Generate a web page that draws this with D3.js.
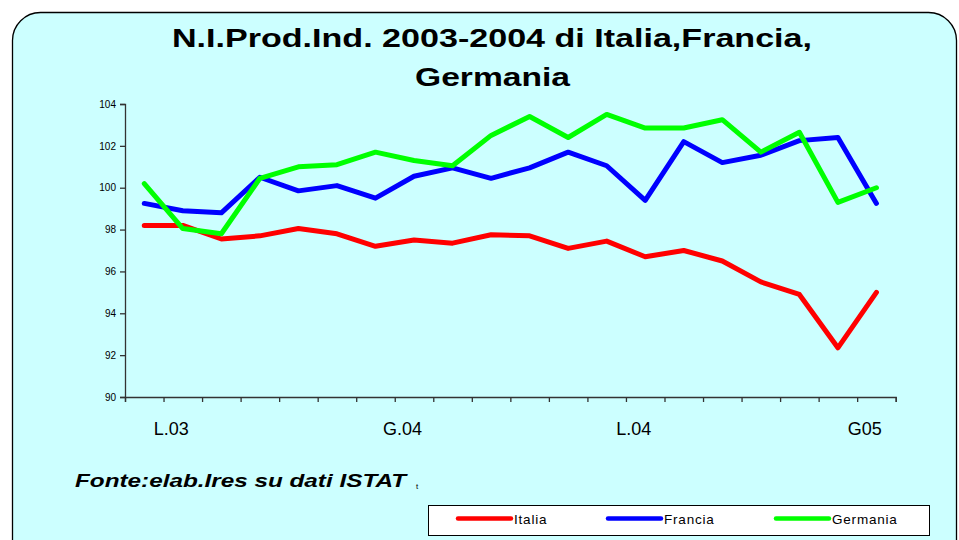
<!DOCTYPE html>
<html>
<head>
<meta charset="utf-8">
<script src="https://cdn.jsdelivr.net/npm/d3@7"></script>
<style>
  body { margin: 0; background: #fff; }
  svg { display: block; font-family: 'Liberation Sans', Arial, sans-serif; }
</style>
</head>
<body>
<svg id="chart" width="959" height="540"></svg>
<script>
// months from Jul 2003 to Feb 2005
const categories = ['lug03', 'ago03', 'set03', 'ott03', 'nov03', 'dic03',
  'gen04', 'feb04', 'mar04', 'apr04', 'mag04', 'giu04',
  'lug04', 'ago04', 'set04', 'ott04', 'nov04', 'dic04',
  'gen05', 'feb05'];
const italia = [98.2, 98.2, 97.55, 97.7, 98.05, 97.8, 97.2, 97.5, 97.35, 97.75,
  97.7, 97.1, 97.45, 96.7, 97.0, 96.5, 95.5, 94.9, 92.35, 95.0];
const francia = [99.25, 98.9, 98.8, 100.5, 99.85, 100.1, 99.5, 100.55, 100.95, 100.45,
  100.95, 101.7, 101.05, 99.4, 102.2, 101.2, 101.55, 102.25, 102.4, 99.25];
const germania = [100.2, 98.05, 97.8, 100.45, 101.0, 101.1, 101.7, 101.3, 101.05, 102.5,
  103.4, 102.4, 103.5, 102.85, 102.85, 103.25, 101.7, 102.65, 99.3, 100.0];
const yTicks = [90, 92, 94, 96, 98, 100, 102, 104];
const tickAt = ['lug03', 'gen04', 'lug04', 'gen05'];
const tickLabels = ['L.03', 'G.04', 'L.04', 'G05'];

const series = [
  { name: 'Italia', values: italia, color: '#ff0000' },
  { name: 'Francia', values: francia, color: '#0000ff' },
  { name: 'Germania', values: germania, color: '#00ff00' },
];

const svg = d3.select('#chart');
const plot = { left: 125, right: 895.7, top: 104, bottom: 397 };

// frame
svg.append('rect')
  .attr('x', 12.5).attr('y', 12.5)
  .attr('width', 944).attr('height', 560)
  .attr('rx', 28).attr('ry', 28)
  .attr('fill', '#ccffff')
  .attr('stroke', '#000')
  .attr('stroke-width', 1.3);

// title (stretched like the original rendering)
const title = svg.append('g')
  .attr('font-size', 26.5)
  .attr('font-weight', 'bold')
  .attr('fill', '#000');
title.append('text')
  .attr('x', 172).attr('y', 47)
  .attr('textLength', 640)
  .attr('lengthAdjust', 'spacingAndGlyphs')
  .text('N.I.Prod.Ind. 2003-2004 di Italia,Francia,');
title.append('text')
  .attr('x', 415).attr('y', 86)
  .attr('textLength', 155)
  .attr('lengthAdjust', 'spacingAndGlyphs')
  .text('Germania');

const x = d3.scaleBand().domain(categories).range([plot.left, plot.right]);
const xTick = d3.scaleLinear().domain([0, categories.length]).range([plot.left, plot.right]);
const y = d3.scaleLinear().domain([90, 104]).range([plot.bottom, plot.top]);

// y axis
const yAxis = svg.append('g')
  .attr('transform', `translate(${plot.left},0)`)
  .call(d3.axisLeft(y).tickValues(yTicks).tickSize(5).tickPadding(4).tickFormat(d3.format('d')));
yAxis.selectAll('text').attr('font-size', 10).attr('fill', '#000')
  .attr('font-family', "'Liberation Sans', Arial, sans-serif");

// x axis (ticks on category boundaries)
const xAxis = svg.append('g')
  .attr('transform', `translate(0,${plot.bottom})`)
  .call(d3.axisBottom(xTick).tickValues(d3.range(categories.length + 1)).tickSize(5).tickFormat(''));

[yAxis, xAxis].forEach((g) => {
  g.select('.domain').attr('stroke', '#333').attr('stroke-width', 1.3);
  g.selectAll('.tick line').attr('stroke', '#333').attr('stroke-width', 1.3);
});

svg.append('g').selectAll('text')
  .data(tickAt)
  .enter()
  .append('text')
  .attr('x', (d) => x(d) + x.bandwidth() * 1.2)
  .attr('y', 435)
  .attr('text-anchor', 'middle')
  .attr('font-size', 18)
  .attr('fill', '#000')
  .text((d, i) => tickLabels[i]);

// lines
const line = d3.line()
  .x((d, i) => x(categories[i]) + x.bandwidth() / 2)
  .y((d) => y(d));

svg.append('g').selectAll('path')
  .data(series)
  .enter()
  .append('path')
  .attr('d', (d) => line(d.values))
  .attr('fill', 'none')
  .attr('stroke', (d) => d.color)
  .attr('stroke-width', 5)
  .attr('stroke-linejoin', 'round')
  .attr('stroke-linecap', 'round');

// source
svg.append('text')
  .attr('x', 75).attr('y', 486.5)
  .attr('font-size', 18)
  .attr('font-weight', 'bold')
  .attr('font-style', 'italic')
  .attr('textLength', 331)
  .attr('lengthAdjust', 'spacingAndGlyphs')
  .text('Fonte:elab.Ires su dati ISTAT');
svg.append('text')
  .attr('x', 416).attr('y', 489)
  .attr('font-size', 8)
  .text('t');

// legend
const legend = svg.append('g');
legend.append('rect')
  .attr('x', 428.5).attr('y', 505.5)
  .attr('width', 501).attr('height', 30)
  .attr('fill', '#fff')
  .attr('stroke', '#000')
  .attr('stroke-width', 1);
const legendX = [458, 608, 776];
const item = legend.selectAll('.item')
  .data(series)
  .enter()
  .append('g')
  .attr('class', 'item')
  .attr('transform', (d, i) => `translate(${legendX[i]},518.5)`);
item.append('line')
  .attr('x1', 0).attr('x2', 53)
  .attr('stroke', (d) => d.color)
  .attr('stroke-width', 4.5)
  .attr('stroke-linecap', 'round');
item.append('text')
  .attr('x', 56).attr('y', 5)
  .attr('font-size', 13.5)
  .attr('letter-spacing', 0.8)
  .attr('fill', '#000')
  .text((d) => d.name);
</script>
</body>
</html>
